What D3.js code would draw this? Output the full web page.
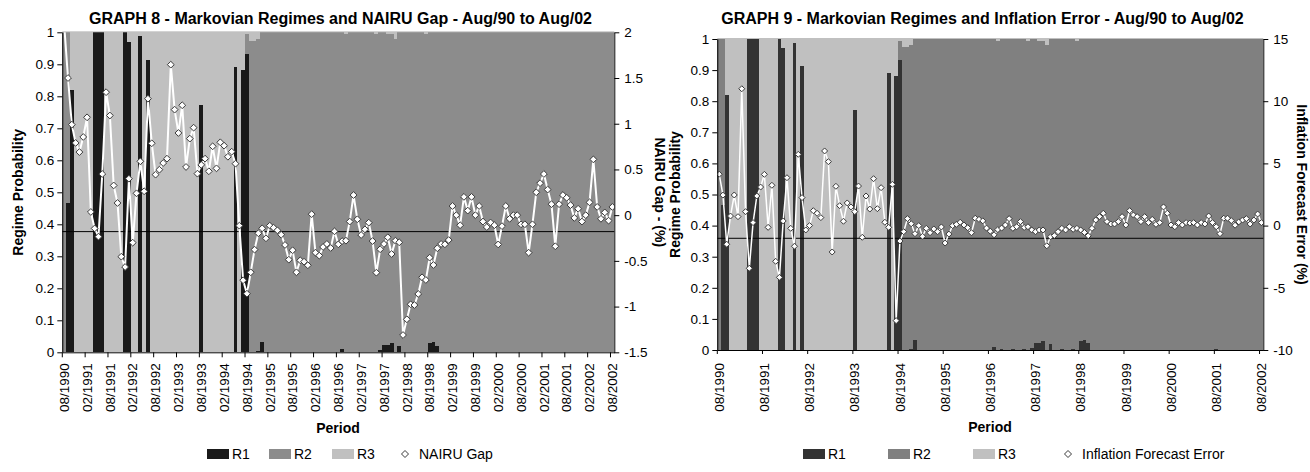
<!DOCTYPE html>
<html><head><meta charset="utf-8">
<script src="https://cdn.jsdelivr.net/npm/d3@7"></script>
<style>
html,body{margin:0;padding:0;background:#fff;}
svg{display:block;font-family:"Liberation Sans",Arial,sans-serif;}
</style></head>
<body><svg id="chart" width="1310" height="472"></svg>
<script>
// Monthly periods, Aug/1990 .. Aug/2002
const months = [];
for (let y = 1990, m = 8; y < 2002 || (y === 2002 && m <= 8); m++) {
  if (m > 12) { m = 1; y++; }
  months.push(String(m).padStart(2, "0") + "/" + y);
}

// Smoothed regime probabilities (rows run Aug..Jul)
const r1 = [
  0, 0.467, 0.82, 0, 0, 0, 0, 0, 1, 1, 1, 0,
  0, 0, 0, 0, 1, 0.97, 0, 0, 0.988, 0, 0.914, 0,
  0, 0, 0, 0, 0, 0, 0, 0, 0, 0, 0, 0,
  0.773, 0, 0, 0, 0, 0, 0, 0, 0, 0.891, 0, 0.882,
  0.932, 0, 0, 0.003, 0.031, 0, 0, 0, 0, 0, 0, 0,
  0, 0, 0, 0, 0, 0, 0, 0, 0, 0, 0, 0,
  0, 0.011, 0, 0.002, 0, 0, 0.002, 0, 0, 0.002, 0, 0.006,
  0.022, 0.022, 0.029, 0, 0.019, 0, 0, 0.002, 0, 0, 0.002, 0,
  0.029, 0.032, 0.021, 0, 0, 0, 0, 0, 0, 0, 0, 0,
  0, 0, 0, 0, 0, 0, 0, 0, 0, 0, 0, 0,
  0, 0, 0, 0, 0, 0, 0, 0, 0, 0, 0, 0,
  0.002, 0, 0, 0, 0, 0, 0, 0, 0, 0, 0, 0,
  0
];
const r2 = [
  1, 0.533, 0, 0, 0, 0, 0, 0, 0, 0, 0, 0,
  0, 0, 0, 0, 0, 0, 0, 0, 0, 0, 0, 0,
  0, 0, 0, 0, 0, 0, 0, 0, 0, 0, 0, 0,
  0, 0, 0, 0, 0, 0, 0, 0, 0, 0, 0, 0,
  0.063, 0.973, 0.973, 0.977, 0.969, 1, 1, 1, 1, 1, 1, 1,
  1, 1, 1, 1, 1, 1, 1, 1, 1, 1, 1, 1,
  1, 0.989, 0.995, 0.998, 1, 1, 0.998, 1, 1, 0.998, 0.994, 0.994,
  0.978, 0.972, 0.965, 0.98, 0.981, 1, 1, 0.998, 1, 1, 0.998, 0.995,
  0.971, 0.968, 0.979, 1, 1, 1, 1, 1, 1, 1, 1, 1,
  1, 1, 1, 1, 1, 1, 1, 1, 1, 1, 1, 1,
  1, 1, 1, 1, 1, 1, 1, 1, 1, 1, 1, 1,
  0.998, 1, 1, 1, 1, 1, 1, 1, 1, 1, 1, 1,
  1
];
const r3 = [
  0, 0, 0.18, 1, 1, 1, 1, 1, 0, 0, 0, 1,
  1, 1, 1, 1, 0, 0.03, 1, 1, 0.012, 1, 0.086, 1,
  1, 1, 1, 1, 1, 1, 1, 1, 1, 1, 1, 1,
  0.227, 1, 1, 1, 1, 1, 1, 1, 1, 0.109, 1, 0.118,
  0.005, 0.027, 0.027, 0.02, 0, 0, 0, 0, 0, 0, 0, 0,
  0, 0, 0, 0, 0, 0, 0, 0, 0, 0, 0, 0,
  0, 0, 0.005, 0, 0, 0, 0, 0, 0, 0, 0.006, 0,
  0, 0.006, 0.006, 0.02, 0, 0, 0, 0, 0, 0, 0, 0.005,
  0, 0, 0, 0, 0, 0, 0, 0, 0, 0, 0, 0,
  0, 0, 0, 0, 0, 0, 0, 0, 0, 0, 0, 0,
  0, 0, 0, 0, 0, 0, 0, 0, 0, 0, 0, 0,
  0, 0, 0, 0, 0, 0, 0, 0, 0, 0, 0, 0,
  0
];

// NAIRU gap (%)
const nairuGap = [
  2.08, 1.50, 0.99, 0.79, 0.69, 0.855, 1.07, 0.035, -0.145, -0.235, 0.45, 1.345,
  1.09, 0.325, 0.133, -0.454, -0.567, 0.399, -0.301, 0.239, 0.589, 0.261, 1.274, 0.786,
  0.443, 0.497, 0.57, 0.618, 1.646, 1.154, 0.899, 1.202, 0.527, 0.837, 0.957, 0.454,
  0.55, 0.618, 0.48, 0.753, 0.512, 0.797, 0.76, 0.639, 0.694, 0.563, -0.115, -0.712,
  -0.859, -0.625, -0.377, -0.198, -0.144, -0.253, -0.115, -0.137, -0.166, -0.214, -0.326, -0.487,
  -0.384, -0.625, -0.494, -0.509, -0.548, 0.011, -0.41, -0.443, -0.348, -0.315, -0.359, -0.177,
  -0.319, -0.284, -0.279, -0.07, 0.22, -0.045, -0.217, -0.155, -0.082, -0.283, -0.629, -0.373,
  -0.315, -0.242, -0.425, -0.279, -0.297, -1.311, -1.139, -0.975, -0.983, -0.862, -0.68, -0.709,
  -0.465, -0.545, -0.362, -0.315, -0.319, -0.272, 0.10, 0.00, -0.11, 0.20, 0.05, 0.20,
  0.00, 0.10, -0.07, -0.13, -0.08, -0.11, -0.32, -0.12, 0.10, -0.04, 0.00, 0.00,
  -0.10, -0.10, -0.41, -0.10, 0.25, 0.35, 0.45, 0.28, 0.12, -0.34, 0.12, 0.22,
  0.19, 0.11, -0.03, 0.07, -0.07, 0.00, 0.14, 0.61, 0.09, -0.04, 0.03, -0.06,
  0.09
];

// Inflation forecast error (%)
const inflationError = [
  4.13, 2.45, -1.5, 0.77, 2.46, 0.72, 11.0, 1.12, -3.43, 0.24, 2.38, 3.1,
  4.12, -0.14, 3.24, -2.87, -4.16, 0.37, 3.85, -0.22, -1.66, 5.73, 2.25, -0.35,
  0.0, 1.2, 0.99, 0.64, 6.0, 5.14, -2.12, 3.16, 1.6, 0.35, 1.82, 1.5,
  1.12, 3.18, -0.94, 2.38, 1.33, 3.77, 1.36, 3.05, 0.27, -0.14, 3.32, -7.64,
  -1.24, -0.49, 0.56, 0.15, -0.65, 0.0, -0.86, -0.22, -0.57, -0.27, -0.49, -0.11,
  -1.4, -0.68, 0.0, 0.1, 0.27, 0.05, -0.17, -0.57, 0.59, 0.5, 0.38, -0.2,
  -0.45, -0.74, -0.32, -0.2, 0.05, 0.56, -0.22, -0.09, 0.32, -0.15, -0.09, -0.35,
  -0.49, -0.35, -0.35, -1.62, -0.9, -0.8, -0.49, -0.22, -0.35, -0.09, -0.3, -0.22,
  -0.35, -0.55, -0.82, -0.22, 0.45, 0.72, 0.99, 0.32, 0.13, 0.13, 0.32, 0.72,
  0.05, 1.2, 0.85, 0.72, 0.32, 0.72, 0.24, 0.5, 0.1, 0.24, 1.5, 0.99,
  0.05, -0.09, 0.24, 0.05, 0.24, 0.2, 0.24, 0.05, 0.24, 0.13, 0.77, 0.24,
  -0.09, -0.65, 0.59, 0.59, 0.4, 0.03, 0.3, 0.45, 0.56, 0.13, 0.45, 0.93,
  0.24
];

// Axis ticks
const probTicks = [0, 0.1, 0.2, 0.3, 0.4, 0.5, 0.6, 0.7, 0.8, 0.9, 1];
const gapTicks = [-1.5, -1, -0.5, 0, 0.5, 1, 1.5, 2];
const errTicks = [-10, -5, 0, 5, 10, 15];
const semiannualLabels = [
  "08/1990", "02/1991", "08/1991", "02/1992", "08/1992", "02/1993", "08/1993",
  "02/1994", "08/1994", "02/1995", "08/1995", "02/1996", "08/1996", "02/1997",
  "08/1997", "02/1998", "08/1998", "02/1999", "08/1999", "02/2000", "08/2000",
  "02/2001", "08/2001", "02/2002", "08/2002"
];
const annualLabels = [
  "08/1990", "08/1991", "08/1992", "08/1993", "08/1994", "08/1995", "08/1996",
  "08/1997", "08/1998", "08/1999", "08/2000", "08/2001", "08/2002"
];
const regimeKeys = ["R1", "R2", "R3"];

const svg = d3.select("#chart");
svg.append("rect").attr("width", 1310).attr("height", 472).attr("fill", "#fff");

function drawPanel(cfg) {
  const g = svg.append("g");
  const x = d3.scaleBand().domain(months).range([cfg.left, cfg.right]).padding(0);
  const bw = x.bandwidth();
  const yP = d3.scaleLinear().domain([0, 1]).range([cfg.bottom, cfg.top]);
  const yS = d3.scaleLinear().domain(cfg.secDomain).range([cfg.bottom, cfg.top]);

  const clipId = "clip-" + cfg.id;
  svg.append("clipPath").attr("id", clipId).append("rect")
    .attr("x", cfg.left).attr("y", cfg.top)
    .attr("width", cfg.right - cfg.left).attr("height", cfg.bottom - cfg.top);

  const rows = months.map((m, i) => ({ month: m, R1: r1[i], R2: r2[i], R3: r3[i] }));
  const layers = d3.stack().keys(regimeKeys)(rows);

  // stacked regime bars (no gap between months)
  g.append("g").attr("shape-rendering", "crispEdges")
    .selectAll("g").data(layers).join("g")
    .attr("fill", d => cfg.colors[d.key])
    .selectAll("rect").data(d => d).join("rect")
    .attr("x", d => x(d.data.month))
    .attr("width", bw)
    .attr("y", d => yP(d[1]))
    .attr("height", d => Math.max(0, yP(d[0]) - yP(d[1])));

  // plot-area top edge
  g.append("line")
    .attr("x1", cfg.left).attr("x2", cfg.right)
    .attr("y1", cfg.top - 0.5).attr("y2", cfg.top - 0.5)
    .attr("stroke", "#c0c0c0").attr("stroke-width", 1);

  // horizontal reference line on the secondary scale
  g.append("line")
    .attr("x1", cfg.left).attr("x2", cfg.right)
    .attr("y1", yS(cfg.refValue)).attr("y2", yS(cfg.refValue))
    .attr("stroke", "#000").attr("stroke-width", 1);

  // series line and diamond markers, clipped to the plot area
  const pg = g.append("g").attr("clip-path", `url(#${clipId})`);
  const cx = i => x(months[i]) + bw / 2;
  const line = d3.line().x((d, i) => cx(i)).y(d => yS(d));
  pg.append("path").datum(cfg.series)
    .attr("fill", "none").attr("stroke", "#fff")
    .attr("stroke-width", cfg.lineWidth).attr("stroke-linejoin", "round")
    .attr("d", line);

  const r = cfg.markerR;
  const diamond = `M0,${-r}L${r},0L0,${r}L${-r},0Z`;
  pg.append("g").selectAll("path").data(cfg.series).join("path")
    .attr("transform", (d, i) => `translate(${cx(i)},${yS(d)})`)
    .attr("d", diamond)
    .attr("fill", "#fff").attr("stroke", "#3a3a3a").attr("stroke-width", 1);

  // axes
  const fs = "13.5px";
  const axL = g.append("g").attr("transform", `translate(${cfg.left},0)`)
    .call(d3.axisLeft(yP).tickValues(probTicks).tickFormat(d => String(d))
      .tickSize(5).tickSizeOuter(0).tickPadding(3));
  const axR = g.append("g").attr("transform", `translate(${cfg.right},0)`)
    .call(d3.axisRight(yS).tickValues(cfg.secTicks).tickFormat(d => String(d))
      .tickSize(5).tickSizeOuter(0).tickPadding(5));
  const axB = g.append("g").attr("transform", `translate(0,${cfg.bottom})`)
    .call(d3.axisBottom(x).tickValues(cfg.xLabels).tickSize(cfg.xTickLen).tickSizeOuter(0));
  axB.selectAll(".tick line").attr("x1", -bw / 2).attr("x2", -bw / 2);
  axB.selectAll(".tick text")
    .attr("transform", "rotate(-90)")
    .attr("text-anchor", "end")
    .attr("x", -cfg.xLabelGap).attr("y", 0).attr("dy", "0.35em");
  [axL, axR, axB].forEach(a => {
    a.selectAll("text").attr("font-family", "Liberation Sans, Arial, sans-serif")
      .attr("font-size", fs).attr("fill", "#000");
    a.selectAll("line,path").attr("stroke", "#000");
  });

  // titles
  g.append("text").attr("x", cfg.titleX).attr("y", cfg.titleY)
    .attr("text-anchor", "middle").attr("font-weight", "bold").attr("font-size", "16px")
    .text(cfg.title);
  g.append("text").attr("x", cfg.periodX).attr("y", cfg.periodY)
    .attr("text-anchor", "middle").attr("font-weight", "bold").attr("font-size", "14px")
    .text("Period");
  const midY = (cfg.top + cfg.bottom) / 2;
  g.append("text")
    .attr("transform", `translate(${cfg.leftTitleX},${midY}) rotate(-90)`)
    .attr("text-anchor", "middle").attr("font-weight", "bold").attr("font-size", "14px")
    .text("Regime Probability");
  g.append("text")
    .attr("transform", `translate(${cfg.rightTitleX},${midY}) rotate(90)`)
    .attr("text-anchor", "middle").attr("font-weight", "bold").attr("font-size", "14px")
    .text(cfg.rightTitle);

  // legend
  const lg = g.append("g").attr("font-size", "14px");
  regimeKeys.forEach((k, i) => {
    lg.append("rect").attr("x", cfg.legendX[i]).attr("y", 449).attr("width", 22).attr("height", 10)
      .attr("fill", cfg.colors[k]);
    lg.append("text").attr("x", cfg.legendX[i] + 25).attr("y", 459).text(k);
  });
  lg.append("path").attr("transform", `translate(${cfg.legendX[3]},454)`)
    .attr("d", `M0,-3.5L3.5,0L0,3.5L-3.5,0Z`)
    .attr("fill", "#fff").attr("stroke", "#3a3a3a").attr("stroke-width", 1);
  lg.append("text").attr("x", cfg.legendX[3] + 14).attr("y", 459).text(cfg.seriesName);
}

drawPanel({
  id: "gap",
  left: 62.3, right: 614.3, top: 32.3, bottom: 352.3,
  secDomain: [-1.5, 2], secTicks: gapTicks, refValue: -0.18,
  series: nairuGap, seriesName: "NAIRU Gap", lineWidth: 2, markerR: 3.4,
  colors: { R1: "#1a1a1a", R2: "#8c8c8c", R3: "#c0c0c0" },
  xLabels: semiannualLabels, xTickLen: 5, xLabelGap: 11,
  title: "GRAPH 8 - Markovian Regimes and NAIRU Gap - Aug/90 to Aug/02",
  titleX: 340.5, titleY: 24,
  periodX: 338, periodY: 433,
  leftTitleX: 23, rightTitleX: 655, rightTitle: "NAIRU Gap - (%)",
  legendX: [207, 269, 332, 405]
});

drawPanel({
  id: "err",
  left: 717.3, right: 1263.3, top: 39, bottom: 350,
  secDomain: [-10, 15], secTicks: errTicks, refValue: -1.02,
  series: inflationError, seriesName: "Inflation Forecast Error", lineWidth: 1.5, markerR: 3,
  colors: { R1: "#333333", R2: "#808080", R3: "#c0c0c0" },
  xLabels: annualLabels, xTickLen: 4, xLabelGap: 13,
  title: "GRAPH 9 - Markovian Regimes and Inflation Error - Aug/90 to Aug/02",
  titleX: 982.5, titleY: 24,
  periodX: 990, periodY: 432,
  leftTitleX: 680, rightTitleX: 1297, rightTitle: "Inflation Forecast Error (%)",
  legendX: [803, 888, 973, 1068]
});
</script>
</body></html>
